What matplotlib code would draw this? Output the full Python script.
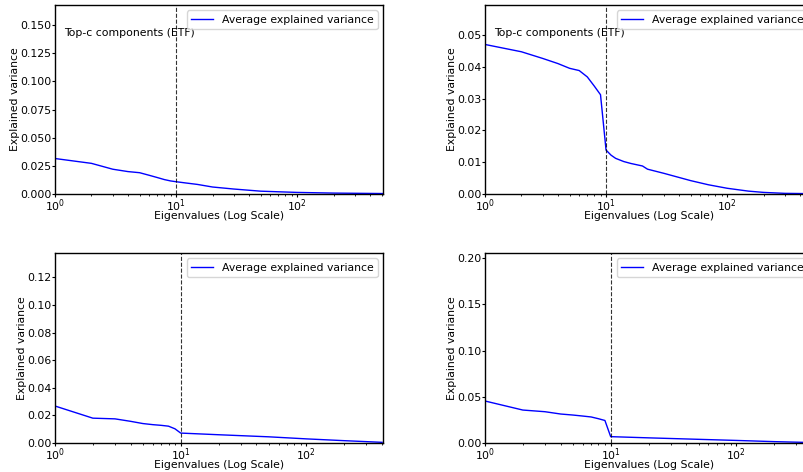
import matplotlib
matplotlib.use("Agg")
import matplotlib.pyplot as plt
from matplotlib.ticker import MultipleLocator

# eigenvalue indices and average explained variance
idx_a = [1, 2, 3, 4, 5, 6, 7, 8, 9, 10, 12, 15, 20, 30, 50, 100, 200, 512]
var_a = [0.0315, 0.0272, 0.0220, 0.0199, 0.0189, 0.0166, 0.0146, 0.0128, 0.0116, 0.0109,
         0.0098, 0.0085, 0.0062, 0.0044, 0.0025, 0.0014, 0.0008, 0.0004]

idx_b = [1, 2, 3, 4, 5, 6, 7, 8, 9, 10, 11, 12, 14, 16, 20, 22, 30, 50, 70, 100, 150, 200, 300, 512]
var_b = [0.0470, 0.0447, 0.0426, 0.0410, 0.0395, 0.0388, 0.0368, 0.0339, 0.0312, 0.0138,
         0.0122, 0.0112, 0.0102, 0.0096, 0.0088, 0.0078, 0.0065, 0.0042, 0.0029, 0.0018,
         0.0009, 0.0005, 0.0002, 0.0001]

idx_c = [1, 2, 3, 4, 5, 6, 7, 8, 9, 10, 20, 50, 100, 200, 400]
var_c = [0.0268, 0.0180, 0.0175, 0.0157, 0.0141, 0.0133, 0.0128, 0.0122, 0.0103, 0.0072,
         0.0060, 0.0045, 0.0030, 0.0017, 0.0005]

idx_d = [1, 2, 3, 4, 5, 6, 7, 8, 9, 10, 20, 50, 100, 200, 400]
var_d = [0.0455, 0.0357, 0.0339, 0.0314, 0.0303, 0.0292, 0.0282, 0.0263, 0.0244, 0.0069,
         0.0056, 0.0040, 0.0028, 0.0015, 0.0005]

y_tops = [0.1678, 0.0594, 0.1376, 0.2057]
y_steps = [0.025, 0.01, 0.02, 0.05]
x_ends = [512, 512, 407, 407]
show_note = [True, True, False, False]
top_c = 10

plt.rcParams['font.size'] = 7.8

fig = plt.figure(figsize=(8.04, 4.72), dpi=100)
rects = [
    [0.0684, 0.589, 0.408, 0.4004],
    [0.6032, 0.589, 0.408, 0.4004],
    [0.0684, 0.0614, 0.408, 0.4025],
    [0.6032, 0.0614, 0.408, 0.4025],
]
panels = [(idx_a, var_a), (idx_b, var_b), (idx_c, var_c), (idx_d, var_d)]

for k, (xs, ys) in enumerate(panels):
    ax = fig.add_axes(rects[k])
    ax.plot(xs, ys, color="blue", linewidth=1.0, label="Average explained variance")
    ax.axvline(top_c, color="k", linestyle="--", linewidth=0.8, alpha=0.8)
    ax.set_xscale("log")
    ax.set_xlim(1, x_ends[k])
    ax.set_ylim(0, y_tops[k])
    ax.yaxis.set_major_locator(MultipleLocator(y_steps[k]))
    ax.tick_params(which="major", length=2.5, pad=0)
    ax.tick_params(which="minor", length=1.5)
    if show_note[k]:
        ax.text(0.027, 0.852, "Top-c components (ETF)", transform=ax.transAxes,
                va="center", ha="left")
    ax.set_xlabel("Eigenvalues (Log Scale)", labelpad=-2)
    ax.set_ylabel("Explained variance", labelpad=0)
    ax.legend(loc="upper right", fontsize=7.8)
    for s in ax.spines.values():
        s.set_linewidth(1.0)

fig.savefig("out.png", dpi=100)
